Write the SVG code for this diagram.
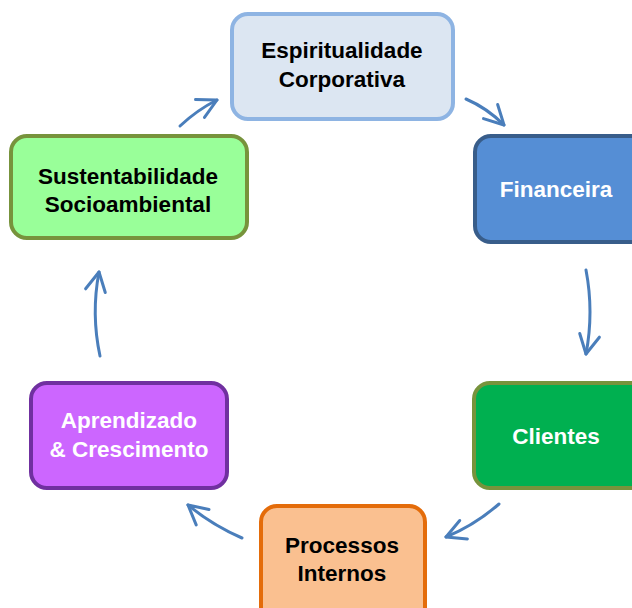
<svg xmlns="http://www.w3.org/2000/svg" width="632" height="608" viewBox="0 0 632 608">
  <style>
    .box { stroke-width: 4; }
    .lbl { font-family: "Liberation Sans", Arial, sans-serif; font-weight: bold; font-size: 22.5px; text-anchor: middle; }
    .dark { fill: #000000; }
    .light { fill: #ffffff; }
    .conn { fill: none; stroke: #4a7ebb; stroke-width: 3; stroke-linecap: round; marker-end: url(#head); }
  </style>
  <defs>
    <marker id="head" markerUnits="userSpaceOnUse" viewBox="-24 -14 30 28" markerWidth="30" markerHeight="28" refX="0" refY="0" orient="auto">
      <path d="M-19,-10 L0,0 L-19,10" fill="none" stroke="#4a7ebb" stroke-width="3" stroke-linecap="round" stroke-linejoin="round"/>
    </marker>
  </defs>
  <rect width="632" height="608" fill="#ffffff"/>

  <g id="connectors">
    <path class="conn" d="M180,126 Q197,110 217,100"/>
    <path class="conn" d="M466,99 Q487,108 504,125"/>
    <path class="conn" d="M586,270 Q594,312 586,354"/>
    <path class="conn" d="M499,504 Q475,525 446,537"/>
    <path class="conn" d="M242,538 Q212,525 188,505"/>
    <path class="conn" d="M100,356 Q91,314 99,272"/>
  </g>

  <g id="espiritualidade">
    <rect class="box" x="232" y="14" width="221" height="105" rx="16" fill="#dce6f2" stroke="#8eb4e3"/>
    <text class="lbl dark" x="342" y="58">Espiritualidade</text>
    <text class="lbl dark" x="342" y="87">Corporativa</text>
  </g>

  <g id="financeira">
    <rect class="box" x="475" y="136" width="180" height="106" rx="16" fill="#558ed5" stroke="#385d8a"/>
    <text class="lbl light" x="556" y="197">Financeira</text>
  </g>

  <g id="clientes">
    <rect class="box" x="474" y="383" width="180" height="105" rx="16" fill="#00b050" stroke="#77933c"/>
    <text class="lbl light" x="556" y="444">Clientes</text>
  </g>

  <g id="processos">
    <rect class="box" x="261" y="506" width="164" height="120" rx="16" fill="#fac090" stroke="#e46c0a"/>
    <text class="lbl dark" x="342" y="553">Processos</text>
    <text class="lbl dark" x="342" y="581">Internos</text>
  </g>

  <g id="aprendizado">
    <rect class="box" x="31" y="383" width="196" height="105" rx="16" fill="#cc66ff" stroke="#7030a0"/>
    <text class="lbl light" x="129" y="428">Aprendizado</text>
    <text class="lbl light" x="129" y="457">&amp; Crescimento</text>
  </g>

  <g id="sustentabilidade">
    <rect class="box" x="11" y="136" width="236" height="102" rx="16" fill="#99ff99" stroke="#77933c"/>
    <text class="lbl dark" x="128" y="184">Sustentabilidade</text>
    <text class="lbl dark" x="128" y="212">Socioambiental</text>
  </g>
</svg>
